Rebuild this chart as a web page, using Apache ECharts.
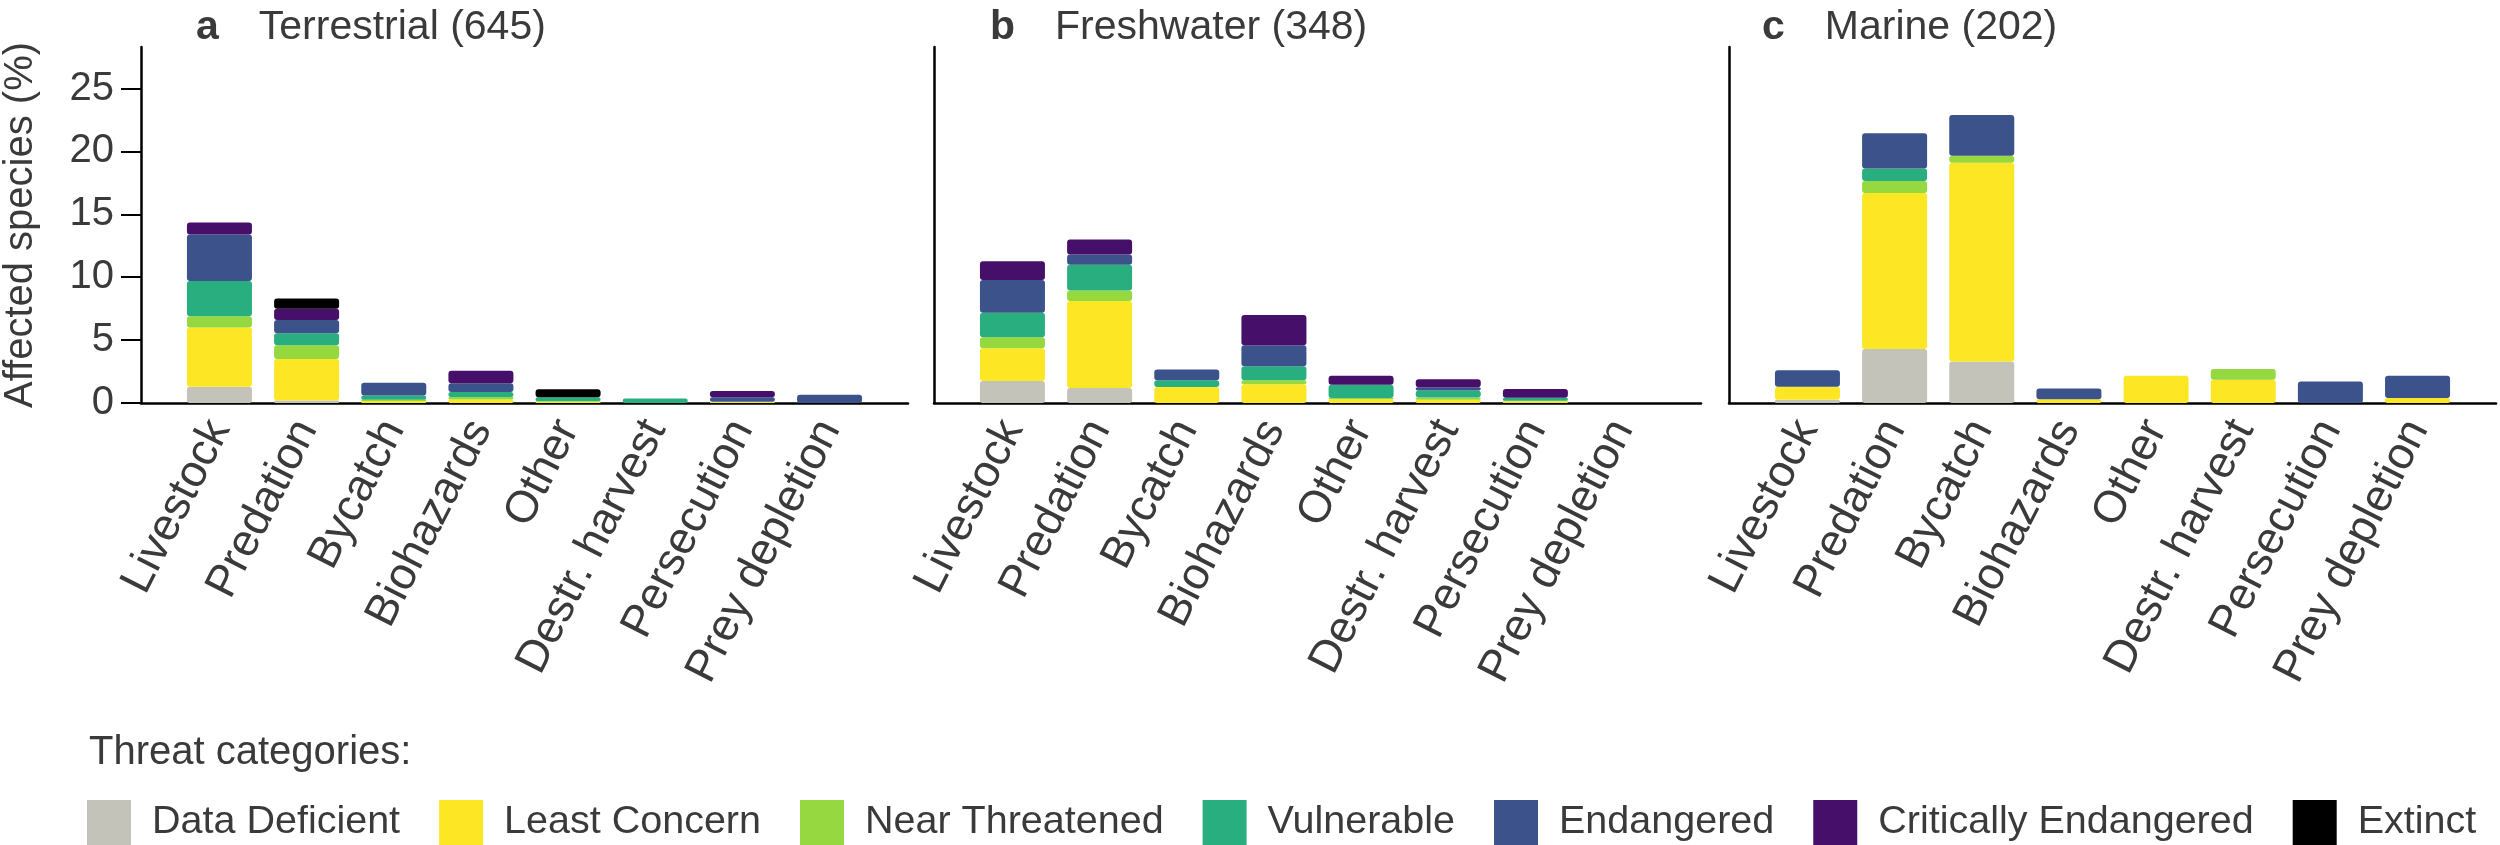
<!DOCTYPE html>
<html>
<head>
<meta charset="utf-8">
<script src="https://cdn.jsdelivr.net/npm/echarts@6/dist/echarts.min.js"></script>
<style>
html,body{margin:0;padding:0;background:#fff;}
#chart{width:2500px;height:845px;}
</style>
</head>
<body>
<div id="chart"></div>
<script>
// ---- categories & labels ----
const categories = ['Livestock', 'Predation', 'Bycatch', 'Biohazards', 'Other', 'Destr. harvest', 'Persecution', 'Prey depletion'];
const threatNames = ['Data Deficient', 'Least Concern', 'Near Threatened', 'Vulnerable', 'Endangered', 'Critically Endangered', 'Extinct'];
const panelLetters = ['a', 'b', 'c'];
const panelTitles = ['Terrestrial (645)', 'Freshwater (348)', 'Marine (202)'];
const yTickValues = [0, 5, 10, 15, 20, 25];

// ---- Terrestrial (a) ----
const terrDataDeficient   = [1.3, 0.2, 0, 0, 0, 0, 0, 0];
const terrLeastConcern    = [4.7, 3.3, 0.15, 0.27, 0.1, 0, 0.1, 0];
const terrNearThreatened  = [0.9, 1.1, 0.1, 0.2, 0.05, 0, 0, 0];
const terrVulnerable      = [2.8, 0.95, 0.35, 0.4, 0.3, 0.35, 0, 0];
const terrEndangered      = [3.7, 1.05, 1.0, 0.7, 0, 0, 0.35, 0.65];
const terrCritically      = [0.95, 0.9, 0, 1.0, 0, 0, 0.5, 0];
const terrExtinct         = [0, 0.8, 0, 0, 0.65, 0, 0, 0];

// ---- Freshwater (b) ----
const freshDataDeficient  = [1.75, 1.2, 0, 0, 0, 0, 0, 0];
const freshLeastConcern   = [2.6, 6.9, 1.27, 1.5, 0.3, 0.26, 0.13, 0];
const freshNearThreatened = [0.87, 0.85, 0, 0.3, 0.1, 0.18, 0.05, 0];
const freshVulnerable     = [1.95, 2.05, 0.53, 1.13, 1.05, 0.56, 0.24, 0];
const freshEndangered     = [2.6, 0.8, 0.87, 1.67, 0, 0.26, 0, 0];
const freshCritically     = [1.5, 1.2, 0, 2.4, 0.72, 0.63, 0.69, 0];
const freshExtinct        = [0, 0, 0, 0, 0, 0, 0, 0];

// ---- Marine (c) ----
const marDataDeficient    = [0.25, 4.3, 3.3, 0, 0, 0, 0, 0];
const marLeastConcern     = [1.05, 12.4, 15.8, 0.3, 2.17, 1.85, 0, 0.4];
const marNearThreatened   = [0, 0.95, 0.55, 0, 0, 0.85, 0, 0];
const marVulnerable       = [0, 1.0, 0, 0, 0, 0, 0, 0];
const marEndangered       = [1.3, 2.8, 3.25, 0.85, 0, 0, 1.7, 1.77];
const marCritically       = [0, 0, 0, 0, 0, 0, 0, 0];
const marExtinct          = [0, 0, 0, 0, 0, 0, 0, 0];

const panelData = [
  [terrDataDeficient, terrLeastConcern, terrNearThreatened, terrVulnerable, terrEndangered, terrCritically, terrExtinct],
  [freshDataDeficient, freshLeastConcern, freshNearThreatened, freshVulnerable, freshEndangered, freshCritically, freshExtinct],
  [marDataDeficient, marLeastConcern, marNearThreatened, marVulnerable, marEndangered, marCritically, marExtinct]
];

// ---- styles ----
const threatColors = ['#c3c3ba', '#fde725', '#95d840', '#29af7f', '#3b528b', '#46106a', '#000000'];
const textColor = '#3a3a3a';
const fontFam = '"Liberation Sans", Arial, sans-serif';
const gridLefts = [141, 934, 1729];
const gridWidth = 767;
const gridTop = 47;
const gridHeight = 356;
const titleLefts = [191, 985, 1757];

const grids = [], xAxes = [], yAxes = [], series = [], titles = [];
for (let p = 0; p < 3; p++) {
  grids.push({ left: gridLefts[p], top: gridTop, width: gridWidth, height: gridHeight, containLabel: false });
  xAxes.push({
    type: 'value', gridIndex: p, min: -0.9, max: 7.9,
    splitLine: { show: false },
    axisLine: { show: true, onZero: false, lineStyle: { color: '#000', width: 2.5 } },
    axisTick: { show: false },
    axisLabel: {
      customValues: categories.map((c, i) => i),
      formatter: v => categories[Math.round(v)] || '',
      rotate: 63, margin: 20, showMinLabel: true, showMaxLabel: true, hideOverlap: false,
      fontSize: 45, color: textColor, fontFamily: fontFam
    }
  });
  yAxes.push({
    type: 'value', gridIndex: p, min: 0, max: 28.3,
    name: p === 0 ? 'Affected species (%)' : '',
    nameLocation: 'middle', nameGap: 100,
    nameTextStyle: { fontSize: 40, color: textColor, fontFamily: fontFam },
    splitLine: { show: false },
    axisLine: { show: true, onZero: false, lineStyle: { color: '#000', width: 2.5 } },
    axisTick: { show: p === 0, length: 20, customValues: yTickValues, lineStyle: { color: '#000', width: 2 } },
    axisLabel: { show: p === 0, customValues: yTickValues, margin: 27, fontSize: 40, color: textColor, fontFamily: fontFam }
  });
  titles.push({
    left: titleLefts[p], top: 2,
    text: '{l|' + panelLetters[p] + '}{t|' + panelTitles[p] + '}',
    textStyle: {
      fontWeight: 'normal',
      rich: {
        l: { fontSize: 41, fontWeight: 'bold', color: textColor, fontFamily: fontFam },
        t: { fontSize: 41, fontWeight: 'normal', color: textColor, fontFamily: fontFam, padding: [0, 0, 0, 40] }
      }
    }
  });
  for (let s = 0; s < threatNames.length; s++) {
    series.push({
      type: 'bar', name: threatNames[s], stack: 'panel' + p,
      xAxisIndex: p, yAxisIndex: p, barWidth: 65,
      encode: { x: 1, y: 0 },
      itemStyle: { color: threatColors[s], borderRadius: 3 },
      data: panelData[p][s].map((v, i) => [v, i])
    });
  }
}
titles.push({
  left: 84, top: 728, text: 'Threat categories:',
  textStyle: { fontSize: 40, fontWeight: 'normal', color: textColor, fontFamily: fontFam }
});

const chart = echarts.init(document.getElementById('chart'), null, { renderer: 'canvas' });
chart.setOption({
  animation: false,
  backgroundColor: '#fff',
  title: titles,
  grid: grids,
  xAxis: xAxes,
  yAxis: yAxes,
  legend: {
    data: threatNames.map(n => ({ name: n, icon: 'rect' })),
    left: 82, top: 795, width: 2700, itemWidth: 44, itemHeight: 45, itemGap: 39,
    textStyle: { fontSize: 39.5, color: textColor, fontFamily: fontFam, padding: [0, 0, 0, 16] },
    selectedMode: false
  },
  series: series
});
</script>
</body>
</html>
